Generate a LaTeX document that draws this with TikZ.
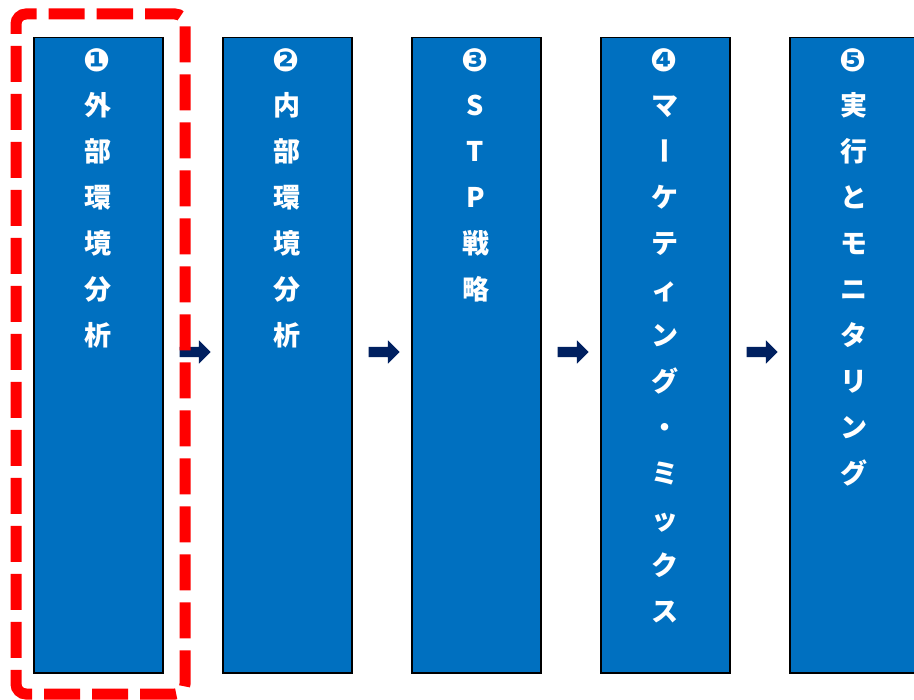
\documentclass[tikz,border=0pt]{standalone}
\usepackage{fontspec}
\usepackage{graphicx}
\newfontfamily\jpfont{Noto Sans CJK JP}
\newfontfamily\numfont{DejaVu Sans}
\usetikzlibrary{shapes.arrows}
\definecolor{colblue}{HTML}{0070C0}
\definecolor{arrownavy}{HTML}{002060}
\definecolor{framered}{HTML}{FF0000}
\begin{document}
\begin{tikzpicture}[x=1pt,y=-1pt,
  column/.style={draw=black, line width=1.5pt, fill=colblue, minimum width=129pt, minimum height=635pt, inner sep=0pt, anchor=north west},
  lbl/.style={text=white, font=\jpfont\bfseries\fontsize{27}{27}\selectfont, text height=23.76pt, text depth=3.24pt, inner sep=0pt, anchor=center},
  num/.style={text=white, font=\numfont\bfseries\fontsize{32}{32}\selectfont, inner sep=0pt, anchor=center},
  flow/.style={single arrow, fill=arrownavy, draw=none, minimum height=31pt, inner sep=5pt, single arrow head extend=6.5pt, single arrow head indent=0pt},
  frame/.style={draw=framered, line width=11pt, rounded corners=10pt, dash pattern=on 36pt off 12pt, dash phase=13pt}
  ]
\useasboundingbox (0,0) rectangle (914,700);
\clip (0,0) rectangle (914,700);
\fill[white] (0,0) rectangle (914,700);

% columns
\node[column] (col1) at (33,37) {};
\node[column] (col2) at (222,37) {};
\node[column] (col3) at (411,37) {};
\node[column] (col4) at (600,37) {};
\node[column] (col5) at (789,37) {};

% numbers
\node[num] (n1) at (97.5,60) {❶};
\node[num] (n2) at (286.5,60) {❷};
\node[num] (n3) at (475.5,60) {❸};
\node[num] (n4) at (664.5,60) {❹};
\node[num] (n5) at (853.5,60) {❺};

% labels
\foreach \t [count=\i] in {外,部,環,境,分,析}
  \node[lbl] (a-\i) at (97.5,59+46*\i) {\t};
\foreach \t [count=\i] in {内,部,環,境,分,析}
  \node[lbl] (b-\i) at (286.5,59+46*\i) {\t};
\foreach \t [count=\i] in {S,T,P,戦,略}
  \node[lbl] (c-\i) at (475.5,59+46*\i) {\t};
\foreach \t/\r [count=\i] in {マ/0,ー/-90,ケ/0,テ/0,ィ/0,ン/0,グ/0,・/0,ミ/0,ッ/0,ク/0,ス/0}
  \node[lbl, rotate=\r] (d-\i) at (664.5,59+46*\i) {\t};
\foreach \t [count=\i] in {実,行,と,モ,ニ,タ,リ,ン,グ}
  \node[lbl] (e-\i) at (853.5,59+46*\i) {\t};

% arrows
\node[flow] (ar1) at (192.5,352) {};
\node[flow] (ar2) at (381.5,352) {};
\node[flow] (ar3) at (570.5,352) {};
\node[flow] (ar4) at (759.5,352) {};

% highlight frame
\draw[frame] (100,14) -- (185,14) -- (185,694) -- (16,694) -- (16,14) -- cycle;
\end{tikzpicture}
\end{document}
